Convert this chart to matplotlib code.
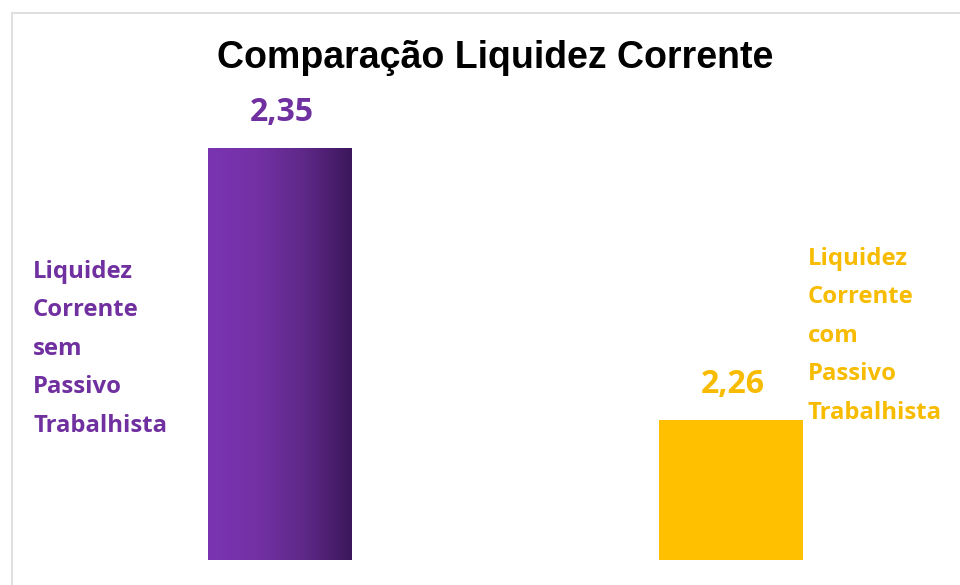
import numpy as np
import matplotlib.pyplot as plt
from matplotlib.patches import Rectangle
from matplotlib.colors import LinearSegmentedColormap

categories = ["Liquidez\nCorrente\nsem\nPassivo\nTrabalhista",
              "Liquidez\nCorrente\ncom\nPassivo\nTrabalhista"]
values = [2.35, 2.26]
value_labels = ["2,35", "2,26"]
title = "Comparação Liquidez Corrente"

purple = "#7030A0"
yellow = "#FFC000"
yellow_text = "#F7BB00"

W, H = 960, 585
fig = plt.figure(figsize=(W / 100, H / 100), dpi=100)
fig.patch.set_facecolor("white")

# chart frame, cut off at right and bottom like the screenshot
fig.patches.append(Rectangle((12 / W, -0.1), 1.2, (H - 13) / H + 0.1,
                             transform=fig.transFigure, fill=False,
                             edgecolor="#D9D9D9", linewidth=1.2))

ax = fig.add_axes([0, 25 / H, 1, 560 / H])
ymin = 2.2137
x = np.arange(len(values))
width = 144 / 451
bars = ax.bar(x, np.array(values) - ymin, bottom=ymin, width=width,
              color=[purple, yellow], linewidth=0)

# purple bar: horizontal gradient light -> dark
b = bars[0]
grad = np.linspace(0, 1, 256).reshape(1, -1)
cmap = LinearSegmentedColormap.from_list(
    "pg", ["#7A34B2", "#7331A5", "#5E2888", "#3C175C"])
im = ax.imshow(grad, cmap=cmap, aspect="auto",
               extent=[b.get_x(), b.get_x() + b.get_width(), ymin, values[0]],
               zorder=3)
im.set_clip_path(b)
ax.set_xlim(-280 / 451, 680 / 451)
ax.set_ylim(ymin, ymin + 560 / 3022)
ax.axis("off")

label_font = "Open Sans"
val_colors = [purple, yellow_text]
for xi, v, lab, c in zip(x, values, value_labels, val_colors):
    ax.annotate(lab, (xi, v), xytext=(1, 19.5), textcoords="offset points",
                ha="center", va="baseline", fontsize=23, fontweight="bold",
                color=c, family=label_font)

# category labels, one line at a time (baselines in pixels from top)
label_pos = [(33, 278, purple), (808, 265, yellow_text)]
for text, (px, py, c) in zip(categories, label_pos):
    for i, line in enumerate(text.split("\n")):
        fig.text(px / W, 1 - (py + 38.4 * i) / H, line, ha="left",
                 va="baseline", fontsize=17.2, fontweight="bold", color=c,
                 family=label_font)

fig.text(495 / W, 1 - 68 / H, title, ha="center", va="baseline",
         fontsize=27, fontweight="bold", color="black",
         family="Liberation Sans")

fig.savefig("out.png", dpi=100)
